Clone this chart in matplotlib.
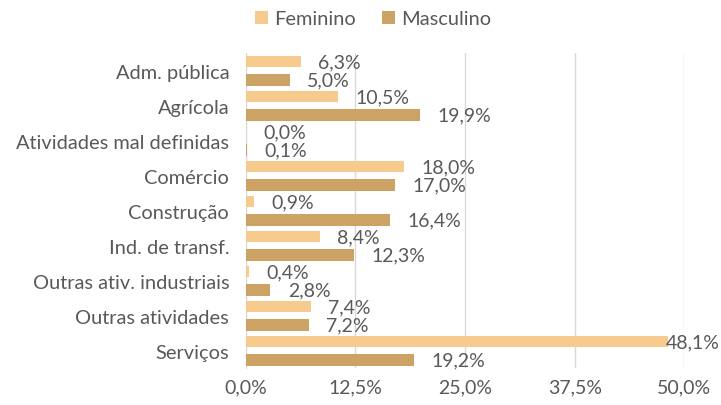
import matplotlib.pyplot as plt
import numpy as np

# Dados (% por setor)
setores = ['Adm. pública', 'Agrícola', 'Atividades mal definidas', 'Comércio',
           'Construção', 'Ind. de transf.', 'Outras ativ. industriais',
           'Outras atividades', 'Serviços']
feminino = [6.3, 10.5, 0.0, 18.0, 0.9, 8.4, 0.4, 7.4, 48.1]
masculino = [5.0, 19.9, 0.1, 17.0, 16.4, 12.3, 2.8, 7.2, 19.2]
ticks = [0, 12.5, 25, 37.5, 50]

cor_fem = '#F7CB8D'
cor_masc = '#CCA365'
cor_texto = '#595959'
fs_cat = 14.4
fs_num = 14

plt.rcParams['font.family'] = ['Lato', 'DejaVu Sans']

fig = plt.figure(figsize=(7.21, 4.06), dpi=100)
ax = fig.add_axes([0.341, 0.090, 0.608, 0.776])

y = np.arange(len(setores))
h = 0.32
off = 0.26
ax.barh(y - off, feminino, height=h, color=cor_fem, label='Feminino', zorder=3)
ax.barh(y + off, masculino, height=h, color=cor_masc, label='Masculino', zorder=3)


def fmt(v):
    return f'{v:.1f}%'.replace('.', ',')


def rotulo(v, yy):
    # rótulos que não cabem à direita ficam encostados ao fim da barra
    dx = 12.5 if v < 40 else -1
    ax.annotate(fmt(v), (v, yy), xytext=(dx, 0), textcoords='offset points',
                ha='left', va='center', fontsize=fs_num, color=cor_texto, zorder=4,
                annotation_clip=False)


for yi, v in zip(y, feminino):
    rotulo(v, yi - off)
for yi, v in zip(y, masculino):
    rotulo(v, yi + off)

ax.set_xlim(0, 50)
ax.set_ylim(len(setores) - 0.5, -0.5)
ax.set_xticks(ticks)
ax.set_xticklabels([fmt(t) for t in ticks], fontsize=fs_num)
ax.set_yticks(y)
ax.set_yticklabels(setores, fontsize=fs_cat)
ax.tick_params(axis='both', length=0, labelcolor=cor_texto)
ax.tick_params(axis='x', pad=7)
ax.tick_params(axis='y', pad=12)

ax.grid(axis='x', color='#D9D9D9', linewidth=1, zorder=0)
for s in ['top', 'right', 'bottom']:
    ax.spines[s].set_visible(False)
ax.spines['left'].set_color('#D9D9D9')

ax.legend(loc='center', bbox_to_anchor=(0.29, 1.11),
          ncol=2, frameon=False, fontsize=fs_cat, handlelength=0.65, handleheight=0.65,
          columnspacing=1.3, handletextpad=0.3, labelcolor=cor_texto)

fig.savefig('out.png', dpi=100)
